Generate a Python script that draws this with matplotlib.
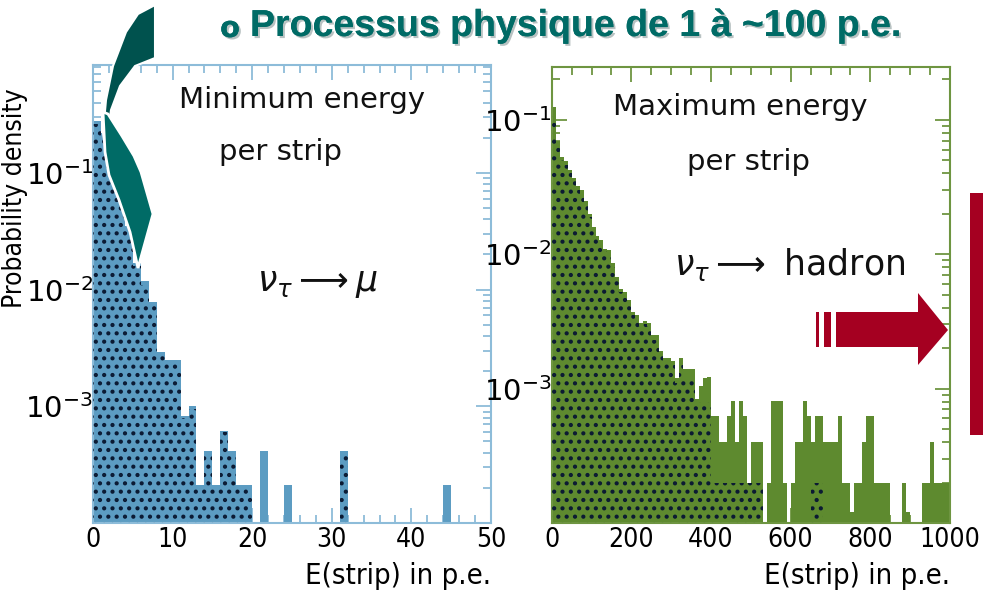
"""Strip energy distributions for tau-neutrino events, min and max energy per strip."""

import matplotlib.pyplot as plt
import matplotlib.patheffects as pe
import numpy as np
from matplotlib.patches import Polygon, Rectangle
from matplotlib.ticker import FixedLocator, LogLocator, NullFormatter

# minimum energy per strip, nu_tau -> mu (1 p.e. bins, 0..50)
left_density = [
    0.28, 0.22, 0.158, 0.07, 0.035, 0.017, 0.0118, 0.0079, 0.0029, 0.0025,
    0.0025, 0.00083, 0.001, 0.00021, 0.00041, 0.00021, 0.00062, 0.00041, 0.00021, 0.00021,
    0, 0.00041, 0, 0, 0.00021, 0, 0, 0, 0, 0,
    0, 0.00041, 0, 0, 0, 0, 0, 0, 0, 0,
    0, 0, 0, 0, 0.00021, 0, 0, 0, 0, 0,
]
left_dotted = [
    0.26, 0.2, 0.14, 0.065, 0.032, 0.016, 0.011, 0.0075, 0.0027, 0.0024,
    0.0023, 0.0008, 0.00095, 0.0002, 0.0004, 0.0002, 0.0006, 0.0004, 0.0002, 0.0002,
    0, 0, 0, 0, 0, 0, 0, 0, 0, 0,
    0, 0.0004, 0, 0, 0, 0, 0, 0, 0, 0,
    0, 0, 0, 0, 0, 0, 0, 0, 0, 0,
]

# maximum energy per strip, nu_tau -> hadron (10 p.e. bins, 0..1000)
right_density = [
    0.125, 0.07, 0.053, 0.049, 0.042, 0.037, 0.032, 0.030, 0.025, 0.020,
    0.016, 0.0136, 0.0128, 0.011, 0.0108, 0.0086, 0.0068, 0.0055, 0.0052, 0.0046,
    0.0037, 0.0035, 0.0031, 0.0032, 0.0031, 0.0025, 0.0025, 0.0019, 0.0017, 0.0017,
    0.0016, 0.0012, 0.0017, 0.0014, 0.0014, 0.0014, 0.00083, 0.00104, 0.0012, 0.00123,
    0.00062, 0.00062, 0.0004, 0.0004, 0.00062, 0.00081, 0.0004, 0.00081, 0.00062, 0.0002,
    0.0004, 0.0004, 0.0004, 0, 0.0002, 0.00081, 0.00081, 0.00081, 0.0002, 0,
    0.0002, 0.0004, 0.0004, 0.00081, 0.00062, 0.0004, 0.00062, 0.00062, 0.0004, 0.0004,
    0.0004, 0.0004, 0.00062, 0.0002, 0.0002, 0.00012, 0.0002, 0.0002, 0.0004, 0.00062,
    0.00062, 0.0002, 0.0002, 0.0002, 0.0002, 0, 0, 0, 0.0002, 0.00012,
    0, 0, 0, 0.0002, 0.0002, 0.0004, 0.0002, 0.0002, 0.0002, 0.0002,
]
right_dotted = [
    0.11, 0.065, 0.05, 0.046, 0.04, 0.035, 0.03, 0.028, 0.023, 0.019,
    0.015, 0.013, 0.012, 0.0105, 0.01, 0.008, 0.0064, 0.0052, 0.0049, 0.0043,
    0.0035, 0.0033, 0.0029, 0.003, 0.0029, 0.0023, 0.0023, 0.0018, 0.0016, 0.0016,
    0.0015, 0.0011, 0.0015, 0.0012, 0.0012, 0.0012, 0.0008, 0.0008, 0.0008, 0.0008,
    0.0002, 0.0002, 0.0002, 0.0002, 0.0002, 0.0002, 0.0002, 0.0002, 0.0002, 0.0002,
    0.0002, 0.0002, 0.0002, 0, 0, 0, 0, 0, 0, 0,
    0, 0, 0, 0, 0, 0.0002, 0.0002, 0.0002, 0, 0,
    0, 0, 0, 0, 0, 0, 0, 0, 0, 0,
    0, 0, 0, 0, 0, 0, 0, 0, 0, 0,
    0, 0, 0, 0, 0, 0, 0, 0, 0, 0,
]

left_xticks = [0, 10, 20, 30, 40, 50]
right_xticks = [0, 200, 400, 600, 800, 1000]
decade_ticks = [1e-3, 1e-2, 1e-1]
decade_labels = [r"$10^{-3}$", r"$10^{-2}$", r"$10^{-1}$"]

W, H = 983, 598
TEAL = "#006b66"
TEAL_DARK = "#00524e"
RED = "#a50021"
cond = dict(family="DejaVu Sans", fontstretch="condensed")

plt.rcParams["hatch.linewidth"] = 1.8
plt.rcParams["mathtext.fontset"] = "dejavusans"

fig = plt.figure(figsize=(W / 100, H / 100), dpi=100)


def px(x, y):
    """pixel position (origin top-left) -> figure fraction"""
    return x / W, 1 - y / H


def panel(rect, values, dotted, width, xmax, ymax, bar_color, frame_color, xticks, xminor):
    ax = fig.add_axes(rect)
    edges = np.arange(len(values)) * width
    ax.set_yscale("log")
    ax.bar(edges, values, width=width, align="edge", color=bar_color, linewidth=0, zorder=2)
    ax.bar(edges, dotted, width=width, align="edge", facecolor="none",
           edgecolor="#0b1a33", hatch="..", linewidth=0, zorder=3)
    ax.set_xlim(0, xmax)
    ax.set_ylim(1e-4, ymax)
    ax.xaxis.set_major_locator(FixedLocator(xticks))
    ax.xaxis.set_minor_locator(FixedLocator(np.arange(0, xmax + 1, xminor)))
    ax.set_xticklabels([str(t) for t in xticks], fontsize=19, **cond)
    ax.yaxis.set_major_locator(FixedLocator(decade_ticks))
    ax.set_yticklabels(decade_labels, fontsize=21)
    ax.yaxis.set_minor_locator(LogLocator(base=10, subs=np.arange(2, 10)))
    ax.yaxis.set_minor_formatter(NullFormatter())
    ax.tick_params(which="both", direction="in", top=True, right=True,
                   color=frame_color, width=1.3)
    ax.tick_params(which="major", length=11)
    ax.tick_params(which="minor", length=6)
    ax.tick_params(axis="y", pad=0)
    ax.tick_params(axis="x", pad=3)
    for s in ax.spines.values():
        s.set_color(frame_color)
        s.set_linewidth(1.5)
    ax.set_facecolor("none")
    ax.set_xlabel("E(strip) in p.e.", loc="right", fontsize=21, labelpad=6, **cond)
    return ax


ax1 = panel([93 / W, 75 / H, 398 / W, 458 / H], left_density, left_dotted, 1, 50, 0.84,
            "#5c9cc2", "#8dbcd9", left_xticks, 2)
ax2 = panel([551.7 / W, 75 / H, 398.3 / W, 456 / H], right_density, right_dotted, 10, 1000, 0.247,
            "#5e8a2f", "#6e9541", right_xticks, 50)

txt = dict(ha="center", va="center", fontsize=21, color="#111111", zorder=5)
eq = dict(ha="center", va="center", fontsize=25, color="#111111", zorder=5)
ax1.text(0.525, 0.924, "Minimum energy", transform=ax1.transAxes, **txt)
ax1.text(0.47, 0.81, "per strip", transform=ax1.transAxes, **txt)
ax1.text(0.565, 0.524, r"$\nu_\tau \longrightarrow \mu$", transform=ax1.transAxes, **eq)
ax2.text(0.473, 0.912, "Maximum energy", transform=ax2.transAxes, **txt)
ax2.text(0.493, 0.792, "per strip", transform=ax2.transAxes, **txt)
ax2.text(0.598, 0.566, r"$\nu_\tau \longrightarrow$ hadron", transform=ax2.transAxes, **eq)

fig.text(*px(15, 198), "Probability density", rotation=90, ha="center", va="center",
         fontsize=19, **cond)

# heading with bullet
shadow = [pe.withSimplePatchShadow(offset=(1.5, -1.5), shadow_rgbFace="#8a9a9a", alpha=0.6),
          pe.Normal()]
fig.text(*px(220, 29), "o", fontsize=21, fontweight="bold", color=TEAL,
         ha="left", va="center", path_effects=shadow)
fig.text(*px(250, 26), "Processus physique de 1 à ~100 p.e.", fontsize=27,
         fontweight="bold", color=TEAL, family="Liberation Sans",
         ha="left", va="center", path_effects=shadow)

# curved arrow pointing into the low-energy peak
upper = [(155, 5), (138, 14), (126, 32), (113, 66), (106, 100), (103, 133), (106, 152),
         (108, 132), (111, 110), (120, 86), (135, 66), (155, 58)]
lower = [(103, 112), (105, 152), (109, 175), (119, 200), (130, 232), (138, 268),
         (153, 214), (141, 172), (134, 156), (122, 136), (108, 114)]
fig.patches.append(Polygon([px(*p) for p in upper], closed=True, transform=fig.transFigure,
                           facecolor=TEAL_DARK, edgecolor="white", linewidth=1.5, zorder=10))
fig.patches.append(Polygon([px(*p) for p in lower], closed=True, transform=fig.transFigure,
                           facecolor=TEAL, edgecolor="white", linewidth=2, zorder=11))


# block arrow and bar on the right
def fig_rect(x0, y0, x1, y1, **kw):
    (fx0, fy1), (fx1, fy0) = px(x0, y0), px(x1, y1)
    fig.patches.append(Rectangle((fx0, fy0), fx1 - fx0, fy1 - fy0,
                                 transform=fig.transFigure, linewidth=0, zorder=12, **kw))


fig_rect(816, 312, 819, 347, facecolor=RED)
fig_rect(824, 312, 831, 347, facecolor=RED)
fig_rect(836, 312, 919, 347, facecolor=RED)
fig.patches.append(Polygon([px(918, 293), px(948, 330), px(918, 365)], closed=True,
                           transform=fig.transFigure, facecolor=RED, linewidth=0, zorder=12))
fig_rect(970, 193, 990, 435, facecolor=RED)

fig.savefig("out.png", dpi=100)
